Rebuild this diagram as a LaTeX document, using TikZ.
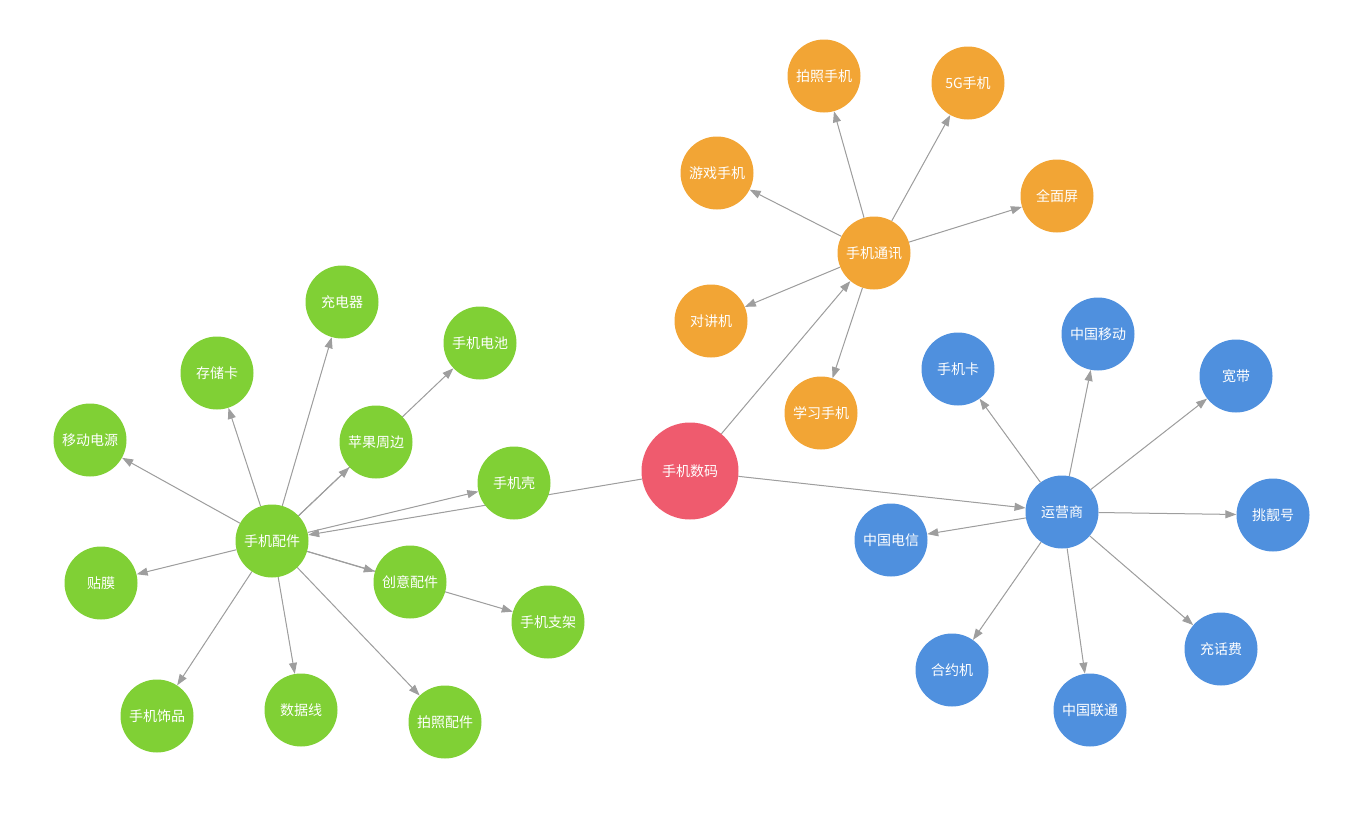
\documentclass[tikz,border=0pt]{standalone}
\usepackage{fontspec}
\usepackage{xcolor}
\newfontfamily\cjk{Noto Sans CJK SC}
\usetikzlibrary{arrows.meta,backgrounds}
\definecolor{leafgreen}{HTML}{80D035}
\definecolor{leaforange}{HTML}{F2A535}
\definecolor{leafblue}{HTML}{4F90DE}
\definecolor{rootred}{HTML}{EF5B6E}
\definecolor{edgegray}{HTML}{9E9E9E}

\begin{document}
\begin{tikzpicture}[x=1pt,y=-1pt,
    leaf/.style={circle,minimum size=73pt,inner sep=0pt,text=white,font=\cjk\fontsize{14}{16}\selectfont},
    acc/.style={leaf,fill=leafgreen},
    com/.style={leaf,fill=leaforange},
    op/.style={leaf,fill=leafblue},
    link/.style={draw=edgegray,line width=1pt,-{Triangle[length=11pt,width=8pt]},fill=edgegray}]
        \useasboundingbox (0,0) rectangle (1350,838);
        % root
        \node[leaf,fill=rootred,minimum size=97pt] (root) at (690,471) {手机数码};
        % communication
        \node[com] (tongxun) at (874,253) {手机通讯};
        \node[com] (paizhao) at (824,76) {拍照手机};
        \node[com] (wuG) at (968,83) {5G手机};
        \node[com] (youxi) at (717,173) {游戏手机};
        \node[com] (quanmian) at (1057,196) {全面屏};
        \node[com] (duijiang) at (711,321) {对讲机};
        \node[com] (xuexi) at (821,413) {学习手机};
        % operator
        \node[op] (yunying) at (1062,512) {运营商};
        \node[op] (shoujika) at (958,369) {手机卡};
        \node[op] (yidong) at (1098,334) {中国移动};
        \node[op] (kuandai) at (1236,376) {宽带};
        \node[op] (tiaoliang) at (1273,515) {挑靓号};
        \node[op] (dianxin) at (891,540) {中国电信};
        \node[op] (heyue) at (952,670) {合约机};
        \node[op] (liantong) at (1090,710) {中国联通};
        \node[op] (huafei) at (1221,649) {充话费};
        % accessories
        \node[acc] (peijian) at (272,541) {手机配件};
        \node[acc] (chongdian) at (342,302) {充电器};
        \node[acc] (dianchi) at (480,343) {手机电池};
        \node[acc] (cunchu) at (217,373) {存储卡};
        \node[acc] (yidongdy) at (90,440) {移动电源};
        \node[acc] (pingguo) at (376,442) {苹果周边};
        \node[acc] (ke) at (514,483) {手机壳};
        \node[acc] (tiemo) at (101,583) {贴膜};
        \node[acc] (chuangyi) at (410,582) {创意配件};
        \node[acc] (zhijia) at (548,622) {手机支架};
        \node[acc] (shipin) at (157,716) {手机饰品};
        \node[acc] (shuju) at (301,710) {数据线};
        \node[acc] (paizhaopj) at (445,722) {拍照配件};
        \begin{scope}[on background layer]
        \draw[link] (root) -- (tongxun);
        \draw[link] (root) -- (yunying);
        \draw[link] (root) -- (peijian);
        \foreach \t in {paizhao,wuG,youxi,quanmian,duijiang,xuexi}
            \draw[link] (tongxun) -- (\t);
        \foreach \t in {shoujika,yidong,kuandai,tiaoliang,dianxin,heyue,liantong,huafei}
            \draw[link] (yunying) -- (\t);
        \foreach \t in {chongdian,dianchi,cunchu,yidongdy,pingguo,ke,tiemo,chuangyi,zhijia,shipin,shuju,paizhaopj}
            \draw[link] (peijian) -- (\t);
        \end{scope}
    \end{tikzpicture}
\end{document}
